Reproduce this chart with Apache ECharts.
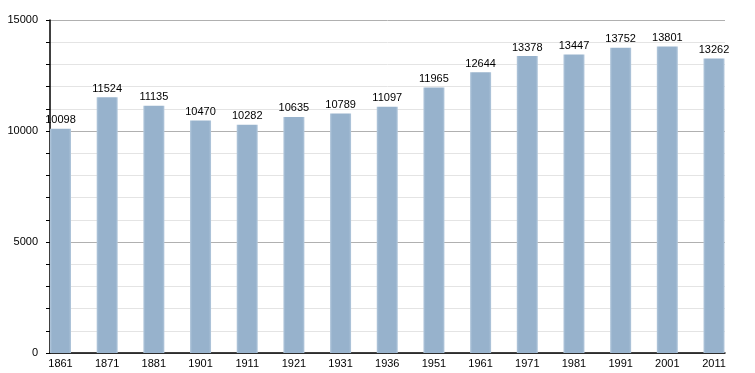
<!DOCTYPE html>
<html><head><meta charset="utf-8">
<script src="https://cdn.jsdelivr.net/npm/echarts@6/dist/echarts.min.js"></script>
<style>html,body{margin:0;padding:0;background:#fff}#c{width:755px;height:373px}</style>
</head><body><div id="c"></div>
<script>
const years = ['1861','1871','1881','1901','1911','1921','1931','1936','1951','1961','1971','1981','1991','2001','2011'];
const population = [10098,11524,11135,10470,10282,10635,10789,11097,11965,12644,13378,13447,13752,13801,13262];
const yTicks = [0,5000,10000,15000];

const font = 'Liberation Sans, Arial, Helvetica, sans-serif';
const chart = echarts.init(document.getElementById('c'));
const barColor = new echarts.graphic.LinearGradient(0,0,1,0,[
  {offset:0,color:'#b3c8dc'},{offset:0.1,color:'#97b2cc'},
  {offset:0.9,color:'#97b2cc'},{offset:1,color:'#b3c8dc'}]);
chart.setOption({
  animation:false,
  grid:[
    {left:50,right:30,top:20,bottom:20},
    {left:60.5,right:41,top:20,bottom:20}
  ],
  xAxis:[
    {gridIndex:0,type:'value',min:0,max:1,show:true,
     axisLine:{show:true,lineStyle:{color:'#000',width:1.5}},
     axisTick:{show:false},axisLabel:{show:false},splitLine:{show:false}},
    {gridIndex:1,type:'category',data:years,boundaryGap:false,
     axisLine:{show:false},axisTick:{show:false},
     axisLabel:{color:'#000',fontFamily:font,fontSize:11,margin:5}}
  ],
  yAxis:[
    {gridIndex:0,type:'value',min:yTicks[0],max:yTicks[yTicks.length-1],interval:5000,
     axisLine:{show:true,lineStyle:{color:'#000',width:1.5}},
     axisTick:{show:true,length:4,lineStyle:{color:'#000'}},
     minorTick:{show:true,splitNumber:5,length:4,lineStyle:{color:'#000'}},
     axisLabel:{color:'#000',fontFamily:font,fontSize:11,margin:12,formatter:v=>String(v)},
     splitLine:{show:true,lineStyle:{color:'#b0b0b0',width:1}},
     minorSplitLine:{show:true,lineStyle:{color:'#e4e4e4',width:1}}},
    {gridIndex:1,type:'value',min:0,max:15000,show:false,splitLine:{show:false}}
  ],
  series:[{
    type:'bar',xAxisIndex:1,yAxisIndex:1,data:population,barWidth:21,
    itemStyle:{color:barColor},
    label:{show:true,position:'top',distance:3,color:'#000',fontFamily:font,fontSize:11}
  }]
});
</script></body></html>
